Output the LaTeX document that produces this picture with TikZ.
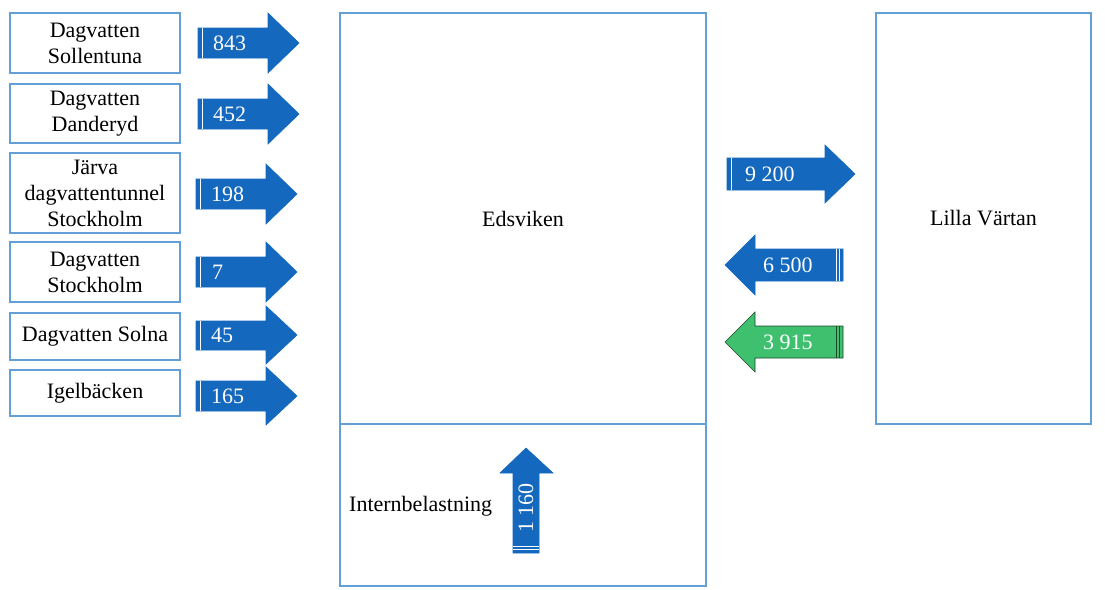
\documentclass[tikz,border=0pt]{standalone}
\usepackage{fontspec}
\setmainfont{Liberation Serif}
\usepackage{tikz}

\definecolor{pilbla}{RGB}{20,104,190}
\definecolor{kantbla}{RGB}{100,160,215}
\definecolor{pilgron}{RGB}{62,192,110}
\definecolor{morkgron}{RGB}{30,70,40}

\tikzset{
  ruta/.style={draw=kantbla, line width=1.2pt, align=center, inner sep=0pt,
               font=\fontsize{22}{26}\selectfont},
  pil/.style={fill=pilbla, draw=pilbla, line width=0.6pt},
  gronpil/.style={fill=pilgron, draw=morkgron, line width=0.6pt},
  rand/.style={draw=white, line width=0.8pt},
  tal/.style={text=white, inner sep=0pt, font=\fontsize{22}{26}\selectfont}
}

\begin{document}
\begin{tikzpicture}[x=1pt, y=-1pt]
                \useasboundingbox [fill=white] (0, 0) rectangle (1105, 589);
                % Kallor
                \node [ruta, minimum width=170, minimum height=60] (sollentuna) at (95, 43) {Dagvatten\\Sollentuna};
                \node [ruta, minimum width=170, minimum height=59] (danderyd) at (95, 113.5) {Dagvatten\\Danderyd};
                \node [ruta, minimum width=170, minimum height=80] (jarva) at (95, 193) {Järva\\dagvattentunnel\\Stockholm};
                \node [ruta, minimum width=170, minimum height=60] (stockholm) at (95, 272) {Dagvatten\\Stockholm};
                \node [ruta, minimum width=170, minimum height=47] (solna) at (95, 336.5) {Dagvatten Solna};
                \node [ruta, minimum width=170, minimum height=46] (igelbacken) at (95, 393) {Igelbäcken};
                % Recipienter
                \node [ruta, minimum width=366, minimum height=411] (edsviken) at (523, 218.5) {Edsviken};
                \node [ruta, minimum width=366, minimum height=162] (intern) at (523, 505) {};
                \node [font=\fontsize{22}{26}\selectfont, anchor=west, inner sep=0pt] (interntext) at (349, 506) {Internbelastning};
                \node [ruta, minimum width=215, minimum height=411] (lillavartan) at (983.5, 218.5) {Lilla Värtan};
                % Pilar in till Edsviken
                \filldraw [pil] (198, 28) -- (268, 28) -- (268, 13) -- (299, 43) -- (268, 73) -- (268, 58) -- (198, 58) -- cycle;
                \draw [rand] (202, 28) -- (202, 58);
                \node [tal, anchor=west] (t843) at (213, 43) {843};
                \filldraw [pil] (198, 99) -- (268, 99) -- (268, 84) -- (299, 114) -- (268, 144) -- (268, 129) -- (198, 129) -- cycle;
                \draw [rand] (202, 99) -- (202, 129);
                \node [tal, anchor=west] (t452) at (213, 114) {452};
                \filldraw [pil] (196, 179) -- (266, 179) -- (266, 164) -- (297, 194) -- (266, 224) -- (266, 209) -- (196, 209) -- cycle;
                \draw [rand] (200, 179) -- (200, 209);
                \node [tal, anchor=west] (t198) at (211, 194) {198};
                \filldraw [pil] (196, 257) -- (266, 257) -- (266, 242) -- (297, 272) -- (266, 302) -- (266, 287) -- (196, 287) -- cycle;
                \draw [rand] (200, 257) -- (200, 287);
                \node [tal, anchor=west] (t7) at (212, 272) {7};
                \filldraw [pil] (196, 321) -- (266, 321) -- (266, 306) -- (297, 335) -- (266, 364) -- (266, 350) -- (196, 350) -- cycle;
                \draw [rand] (200, 321) -- (200, 350);
                \node [tal, anchor=west] (t45) at (211, 335) {45};
                \filldraw [pil] (196, 381) -- (266, 381) -- (266, 367) -- (297, 396) -- (266, 425) -- (266, 411) -- (196, 411) -- cycle;
                \draw [rand] (200, 381) -- (200, 411);
                \node [tal, anchor=west] (t165) at (211, 396) {165};
                % Utbyte med Lilla Värtan
                \filldraw [pil] (727, 158) -- (825, 158) -- (825, 145) -- (855, 174) -- (825, 203) -- (825, 190) -- (727, 190) -- cycle;
                \draw [rand] (731, 158) -- (731, 190);
                \node [tal, anchor=west] (t9200) at (745, 174) {9 200};
                \filldraw [pil] (843, 249) -- (755, 249) -- (755, 235) -- (725, 265) -- (755, 295) -- (755, 281) -- (843, 281) -- cycle;
                \draw [rand] (836, 249) -- (836, 281);
                \draw [rand] (839.5, 249) -- (839.5, 281);
                \node [tal, anchor=west] (t6500) at (763, 265) {6 500};
                \filldraw [gronpil] (843, 326) -- (755, 326) -- (755, 312) -- (725, 342) -- (755, 372) -- (755, 358) -- (843, 358) -- cycle;
                \draw [morkgron, line width=0.8pt] (836, 326) -- (836, 358);
                \draw [morkgron, line width=0.8pt] (839.5, 326) -- (839.5, 358);
                \node [tal, anchor=west] (t3915) at (763, 342) {3 915};
                % Internbelastning
                \filldraw [pil] (513, 553) -- (513, 473) -- (500, 473) -- (526, 448) -- (553, 473) -- (539, 473) -- (539, 553) -- cycle;
                \draw [rand] (513, 546) -- (539, 546);
                \draw [rand] (513, 549.5) -- (539, 549.5);
                \node [tal, rotate=90] (t1160) at (526, 508) {1 160};
\end{tikzpicture}
\end{document}
